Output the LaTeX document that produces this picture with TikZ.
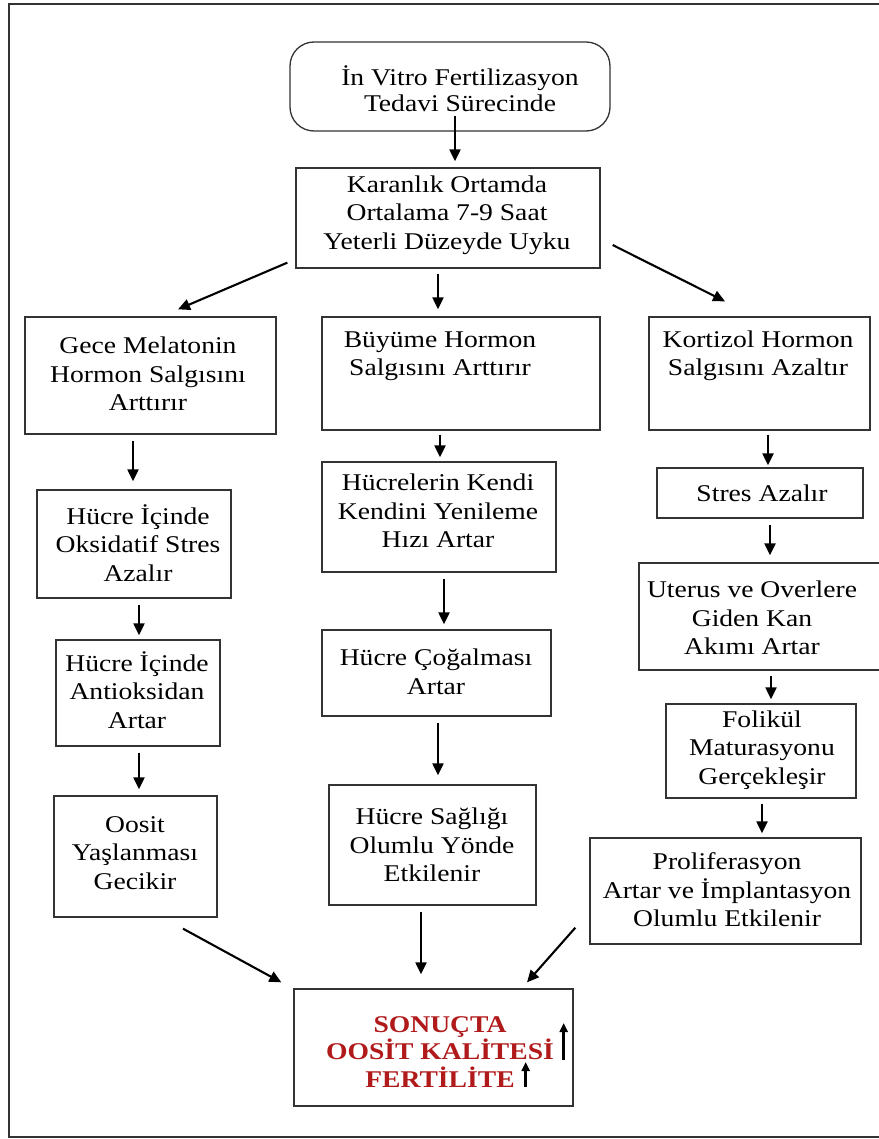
\documentclass[tikz,border=0pt]{standalone}
\usepackage{fontspec}
\setmainfont[FakeStretch=1.15]{Liberation Serif}
\usetikzlibrary{arrows.meta}
\definecolor{edge}{HTML}{333333}
\definecolor{redtxt}{HTML}{B01A1A}
\begin{document}
\begin{tikzpicture}[x=1pt,y=-1pt,
  box/.style={draw=edge, line width=1.3pt, inner sep=0pt},
  rbox/.style={box, rounded corners=24pt},
  txt/.style={align=center, inner sep=0pt, font=\fontsize{24}{28.5}\selectfont},
  rtxt/.style={align=center, inner sep=0pt, text=redtxt, font=\fontsize{24}{27.5}\selectfont\bfseries},
  arr/.style={-{Triangle[length=12pt,width=11pt]}, line width=2.1pt},
  uparr/.style={-{Triangle[length=9pt,width=8pt]}, line width=2.4pt}]
\useasboundingbox (0,0) rectangle (878,1139);
\fill[white] (0,0) rectangle (878,1139);
% outer frame (right side outside the picture)
\draw[edge, line width=1.5pt] (882,4) -- (9,4) -- (9,1137) -- (882,1137);

% boxes
\node[rbox, minimum width=320pt, minimum height=89pt] (top) at (450,86.5) {};
\node[box, minimum width=304pt, minimum height=100pt] (kar) at (448,218) {};
\node[box, minimum width=251pt, minimum height=117pt] (gece) at (150.5,375.5) {};
\node[box, minimum width=278pt, minimum height=113pt] (buy) at (461,373.5) {};
\node[box, minimum width=221pt, minimum height=113pt] (kor) at (759.5,373.5) {};
\node[box, minimum width=194pt, minimum height=108pt] (oks) at (134,544) {};
\node[box, minimum width=234pt, minimum height=110pt] (hk) at (439,517) {};
\node[box, minimum width=206pt, minimum height=50pt] (str) at (760,493) {};
\node[box, minimum width=164pt, minimum height=106pt] (ant) at (138,693) {};
\node[box, minimum width=229pt, minimum height=86pt] (cog) at (436.5,673) {};
\node[box, minimum width=243pt, minimum height=107pt] (ute) at (760.5,616.5) {};
\node[box, minimum width=190pt, minimum height=94pt] (fol) at (761,751) {};
\node[box, minimum width=163pt, minimum height=121pt] (oos) at (135.5,856.5) {};
\node[box, minimum width=207pt, minimum height=120pt] (sag) at (432.5,845) {};
\node[box, minimum width=271pt, minimum height=106pt] (pro) at (725.5,891) {};
\node[box, minimum width=279pt, minimum height=117pt] (son) at (433.5,1047.5) {};

% texts
\node[txt, font=\fontsize{24}{26}\selectfont] (t-top) at (460,89) {İn Vitro Fertilizasyon\\Tedavi Sürecinde};
\node[txt] (t-kar) at (447,215) {Karanlık Ortamda\\Ortalama 7-9 Saat\\Yeterli Düzeyde Uyku};
\node[txt] (t-gece) at (148,374) {Gece Melatonin\\Hormon Salgısını\\Arttırır};
\node[txt] (t-buy) at (440,356) {Büyüme Hormon\\Salgısını Arttırır};
\node[txt] (t-kor) at (758,356) {Kortizol Hormon\\Salgısını Azaltır};
\node[txt] (t-oks) at (138,543) {Hücre İçinde\\Oksidatif Stres\\Azalır};
\node[txt] (t-hk) at (438,511) {Hücrelerin Kendi\\Kendini Yenileme\\Hızı Artar};
\node[txt] (t-str) at (762,493) {Stres Azalır};
\node[txt] (t-ant) at (137,690) {Hücre İçinde\\Antioksidan\\Artar};
\node[txt] (t-cog) at (436,672) {Hücre Çoğalması\\Artar};
\node[txt] (t-ute) at (752,618) {Uterus ve Overlere\\Giden Kan\\Akımı Artar};
\node[txt] (t-fol) at (762,750) {Folikül\\Maturasyonu\\Gerçekleşir};
\node[txt] (t-oos) at (135,853) {Oosit\\Yaşlanması\\Gecikir};
\node[txt] (t-sag) at (432,845) {Hücre Sağlığı\\Olumlu Yönde\\Etkilenir};
\node[txt] (t-pro) at (727,890) {Proliferasyon\\Artar ve İmplantasyon\\Olumlu Etkilenir};
\node[rtxt] (t-son) at (440,1052) {SONUÇTA\\OOSİT KALİTESİ\\FERTİLİTE};

% connectors
\draw[arr] ([xshift=5pt,yshift=16pt]top.south) -- ([xshift=7pt,yshift=6pt]kar.north);
\draw[arr] ([xshift=-8pt,yshift=6pt]kar.south west) -- ([xshift=27.5pt,yshift=7pt]gece.north);
\draw[arr] ([xshift=-10pt,yshift=-5pt]kar.south) -- ([xshift=-23pt,yshift=7pt]buy.north);
\draw[arr] ([xshift=12pt,yshift=-27pt]kar.east) -- ([xshift=-34.5pt,yshift=15pt]kor.north);
\draw[arr] ([xshift=-17.5pt,yshift=-6pt]gece.south) -- ([xshift=-1pt,yshift=8pt]oks.north);
\draw[arr] ([xshift=-21pt,yshift=-4pt]buy.south) -- ([xshift=1pt,yshift=4pt]hk.north);
\draw[arr] ([xshift=8.5pt,yshift=-4pt]kor.south) -- ([xshift=8pt,yshift=2pt]str.north);
\draw[arr] ([xshift=5pt,yshift=-6pt]oks.south) -- ([xshift=1pt,yshift=4pt]ant.north);
\draw[arr] ([xshift=5pt,yshift=-6pt]hk.south) -- ([xshift=7.5pt,yshift=5pt]cog.north);
\draw[arr] ([xshift=10pt,yshift=-6pt]str.south) -- ([xshift=9.5pt,yshift=7pt]ute.north);
\draw[arr] ([xshift=1pt,yshift=-6pt]ant.south) -- ([xshift=3.5pt,yshift=6pt]oos.north);
\draw[arr] ([xshift=1.5pt,yshift=-6pt]cog.south) -- ([xshift=5.5pt,yshift=9pt]sag.north);
\draw[arr] ([xshift=10.5pt,yshift=-5pt]ute.south) -- ([xshift=10pt,yshift=4pt]fol.north);
\draw[arr] ([xshift=1pt,yshift=-5pt]fol.south) -- ([xshift=36.5pt,yshift=4pt]pro.north);
\draw[arr] ([xshift=47.5pt,yshift=-11pt]oos.south) -- ([xshift=-12pt,yshift=6pt]son.north west);
\draw[arr] ([xshift=-11.5pt,yshift=-6pt]sag.south) -- ([xshift=-12.5pt,yshift=14pt]son.north);
\draw[arr] ([xshift=-14pt,yshift=17pt]pro.south west) -- ([xshift=93.5pt,yshift=6pt]son.north);

% up arrows in result box
\draw[uparr] ([xshift=-10pt,yshift=-12.5pt]son.east) -- ([xshift=-10pt,yshift=24.5pt]son.east);
\draw[uparr] ([xshift=-48pt,yshift=-39.5pt]son.east) -- ([xshift=-48pt,yshift=-14.5pt]son.east);
\end{tikzpicture}
\end{document}
